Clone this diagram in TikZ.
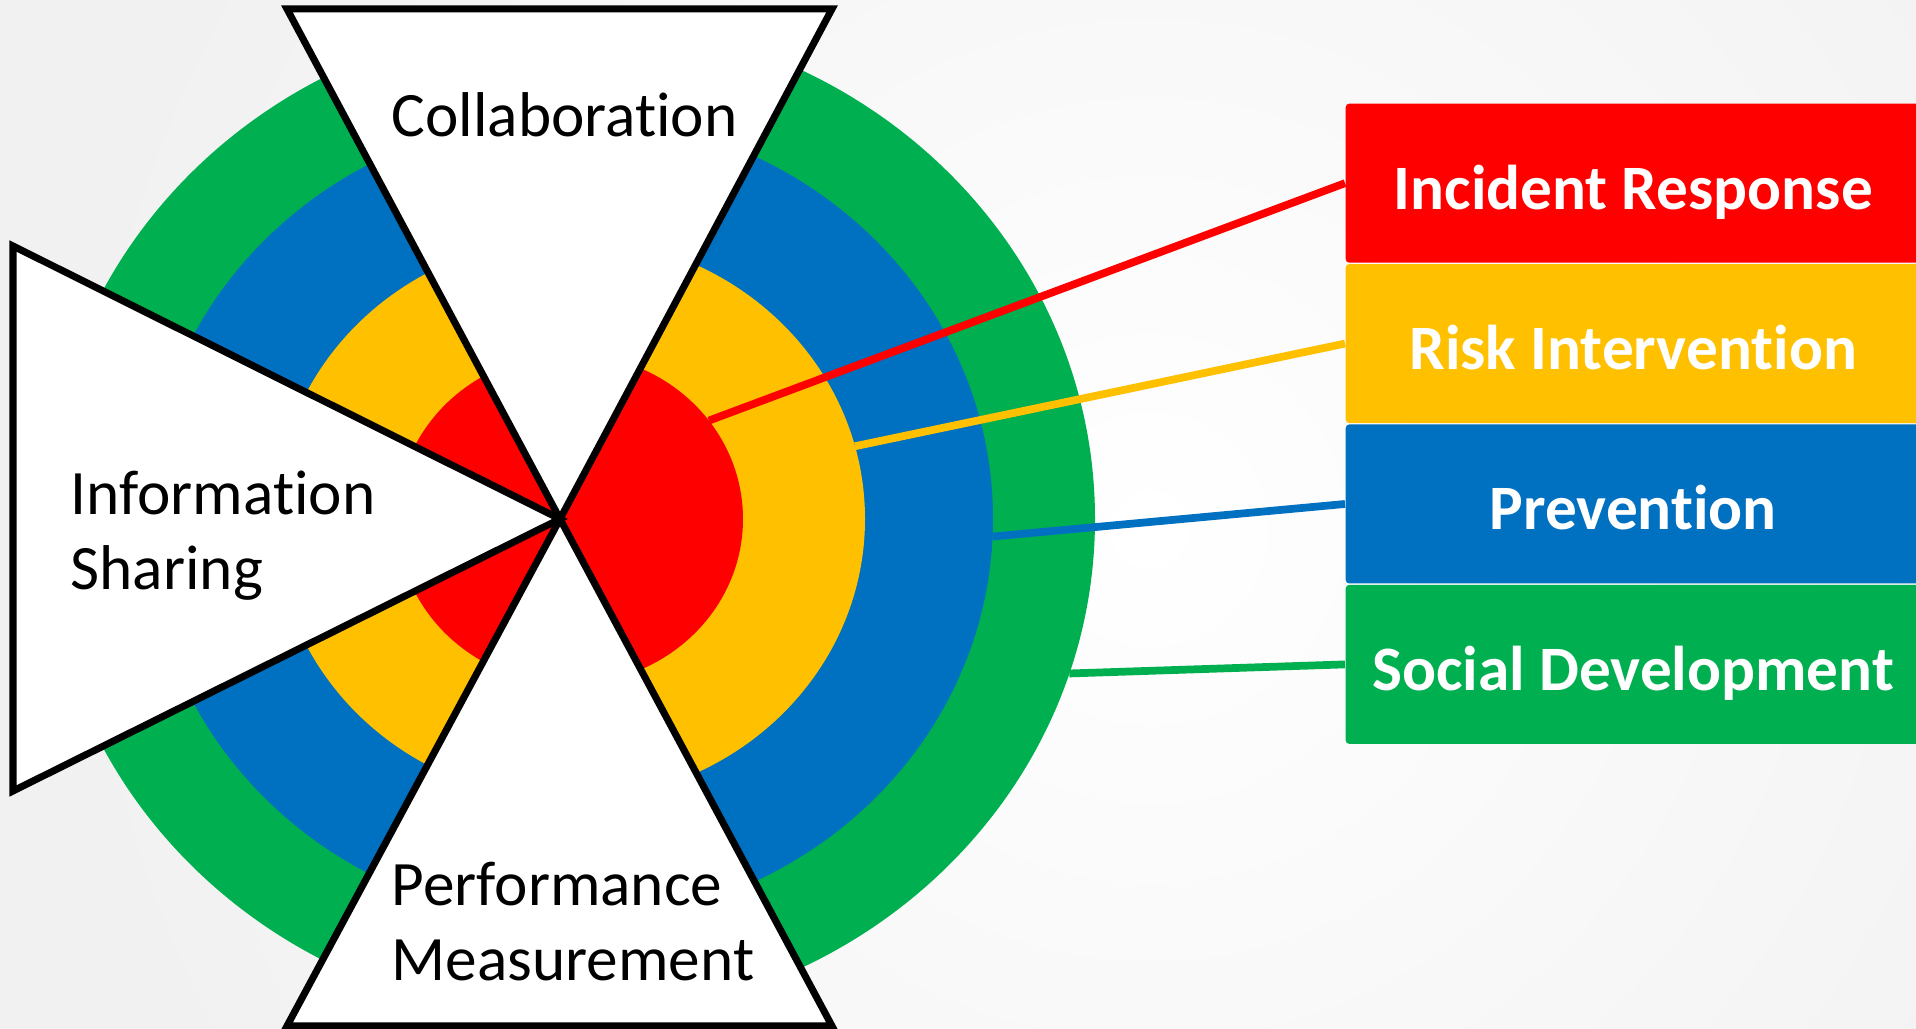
\documentclass[tikz,border=0pt]{standalone}
\usepackage{fontspec}
\setmainfont{Carlito}[Ligatures={NoCommon,NoContextual,NoRequired},Contextuals=NoAlternate]
\usetikzlibrary{positioning}
\definecolor{irred}{HTML}{FF0000}
\definecolor{riyellow}{HTML}{FFC000}
\definecolor{pvblue}{HTML}{0070C0}
\definecolor{sdgreen}{HTML}{00B050}
\definecolor{bggray}{HTML}{F1F1F1}
\begin{document}
\begin{tikzpicture}[x=1cm,y=1cm,
    wedge/.style={draw=black,fill=white,line width=2pt},
    lbl/.style={inner sep=0pt,align=left,font=\fontsize{18}{21.6}\selectfont},
    lvl/.style={minimum width=5.75cm,minimum height=1.59cm,inner sep=0pt,rounded corners=1pt,
        text height=0.6cm,text depth=0.08cm,text=white,font=\fontsize{18}{21.6}\selectfont\bfseries},
    link/.style={line width=2.2pt}]
    \def\cx{5.7}
    \def\cy{5.1}
    \useasboundingbox (0,0) rectangle (19.16,10.29);
    \clip (0,0) rectangle (19.16,10.29);
    \fill[bggray] (0,0) rectangle (19.16,10.29);
    \shade[inner color=white,outer color=bggray] (11.5,5) circle (11); % soft background
    % target rings
    \fill[sdgreen] (\cx,\cy) ellipse [x radius=5.25,y radius=5.00];
    \fill[pvblue] (\cx,\cy) ellipse [x radius=4.23,y radius=4.03];
    \fill[riyellow] (\cx,\cy) ellipse [x radius=2.95,y radius=2.81];
    \fill[irred] (\cx,\cy) ellipse [x radius=1.73,y radius=1.65];
    % three triangles meeting at O
    \coordinate (O) at (5.6,5.1);
    \draw[wedge] (2.87,10.2) -- (8.32,10.2) -- (O) -- cycle;
    \draw[wedge] (2.87,0.03) -- (8.32,0.03) -- (O) -- cycle;
    \draw[wedge] (0.13,7.83) -- (0.13,2.38) -- (O) -- cycle;
    \node[lbl,anchor=base west] (collab) at (3.91,8.92) {Collaboration};
    \node[lbl,anchor=base west] (info) at (0.70,4.39) {Information\\Sharing};
    \node[lbl,anchor=base west] (perf) at (3.91,0.48) {Performance\\Measurement};
    % legend
    \node[lvl,fill=irred,anchor=north west] (ir) at (13.45,9.26) {Incident Response};
    \node[lvl,fill=riyellow,below=0cm of ir] (ri) {Risk Intervention};
    \node[lvl,fill=pvblue,below=0cm of ri] (pv) {Prevention};
    \node[lvl,fill=sdgreen,below=0cm of pv] (sd) {Social Development};
    % start points on the rings
    \coordinate (irp) at ([shift={(\cx,\cy)}]36.6:1.73 and 1.65);
    \coordinate (rip) at ([shift={(\cx,\cy)}]15:2.95 and 2.81);
    \coordinate (pvp) at ([shift={(\cx,\cy)}]-2.5:4.23 and 4.03);
    \coordinate (sdp) at ([shift={(\cx,\cy)}]-18:5.25 and 5.00);
    \draw[link,irred] (irp) -- (ir.west);
    \draw[link,riyellow] (rip) -- (ri.west);
    \draw[link,pvblue] (pvp) -- (pv.west);
    \draw[link,sdgreen] (sdp) -- (sd.west);
\end{tikzpicture}
\end{document}
